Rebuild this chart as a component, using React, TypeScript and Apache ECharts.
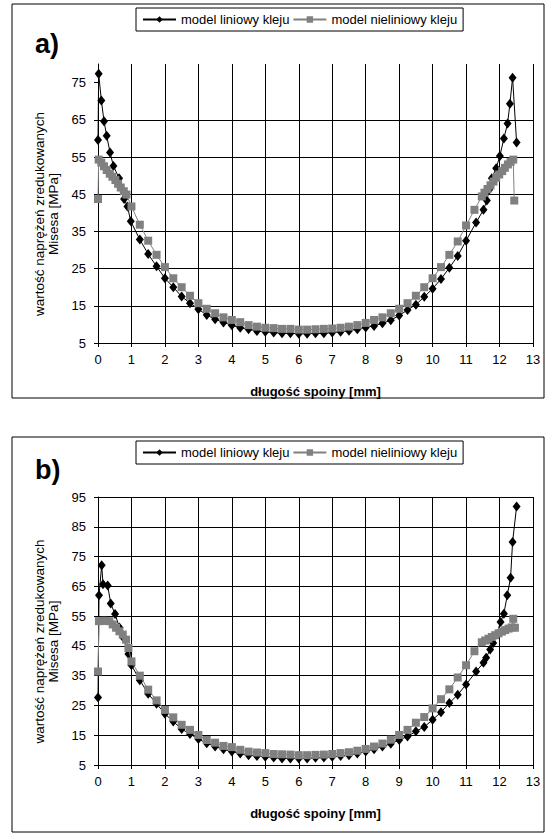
import React, { useEffect, useRef } from "react";
import * as echarts from "echarts";

const FONT = "'Liberation Sans', Arial, sans-serif";
const NAME_LIN = "model liniowy kleju";
const NAME_NON = "model nieliniowy kleju";

const xTicks = [0, 1, 2, 3, 4, 5, 6, 7, 8, 9, 10, 11, 12, 13];
const aYTicks = [5, 15, 25, 35, 45, 55, 65, 75];
const bYTicks = [5, 15, 25, 35, 45, 55, 65, 75, 85, 95];
const yTitleText = "wartość naprężeń zredukowanych\nMisesa [MPa]";
const xTitleText = "długość spoiny [mm]";

// ---- panel a) ----
const aLinX = [0, 0.02, 0.1, 0.18, 0.26, 0.36, 0.46, 0.63, 0.78, 0.88, 0.98,
  1.25, 1.5, 1.75, 2, 2.25, 2.5, 2.75, 3, 3.25, 3.5,
  3.75, 4, 4.25, 4.5, 4.75, 5, 5.25, 5.5, 5.75, 6,
  6.25, 6.5, 6.75, 7, 7.25, 7.5, 7.75, 8, 8.25, 8.5,
  8.75, 9, 9.25, 9.5, 9.75, 10, 10.25, 10.5, 10.75, 11,
  11.3, 11.52, 11.62, 11.69, 11.77, 11.9, 12.01, 12.13, 12.24, 12.31, 12.39, 12.51];
const aLinY = [59.6, 77.4, 70.2, 64.6, 60.7, 56.2, 52.6, 49.3, 43.7, 41.7, 37.7,
  32.8, 28.9, 25.6, 22.4, 20.0, 17.5, 15.7, 14.1, 12.5, 11.4,
  10.5, 9.8, 9.1, 8.7, 8.2, 8.0, 7.8, 7.6, 7.6, 7.5,
  7.5, 7.6, 7.6, 7.8, 8.0, 8.3, 8.7, 9.2, 9.6, 10.3,
  11.1, 12.4, 13.9, 15.3, 17.4, 19.6, 22.2, 25.2, 28.4, 32.5,
  37.4, 40.8, 43.3, 46.2, 49.3, 52.0, 55.3, 60.0, 64.0, 69.3, 76.3, 58.9];

const aNonX = [0, 0.02, 0.1, 0.18, 0.26, 0.35, 0.43, 0.52, 0.6, 0.68, 0.77, 0.85,
  1, 1.25, 1.5, 1.75, 2, 2.25, 2.5, 2.75, 3, 3.25, 3.5,
  3.75, 4, 4.25, 4.5, 4.75, 5, 5.25, 5.5, 5.75, 6,
  6.25, 6.5, 6.75, 7, 7.25, 7.5, 7.75, 8, 8.25, 8.5,
  8.75, 9, 9.25, 9.5, 9.75, 10, 10.25, 10.5, 10.75, 11, 11.25,
  11.47, 11.55, 11.64, 11.73, 11.82, 11.9, 11.99, 12.08, 12.16, 12.25, 12.33, 12.41, 12.44];
const aNonY = [43.7, 54.3, 53.5, 52.5, 51.5, 50.5, 49.7, 48.8, 47.8, 46.8, 45.8, 44.9,
  41.7, 36.8, 32.5, 28.7, 25.4, 22.4, 20.0, 17.7, 15.7, 14.2, 13.0,
  11.9, 11.2, 10.6, 9.8, 9.4, 9.1, 9.0, 8.8, 8.8, 8.6,
  8.6, 8.7, 8.8, 8.9, 9.1, 9.4, 9.8, 10.4, 11.2, 11.9,
  13.0, 14.2, 15.7, 17.7, 20.0, 22.4, 25.4, 28.7, 32.3, 36.6, 40.8,
  44.4, 45.4, 46.4, 47.4, 48.4, 49.4, 50.3, 51.2, 52.1, 53.0, 53.7, 54.3, 43.3];

// ---- panel b) ----
const bLinX = [0, 0.03, 0.11, 0.15, 0.29, 0.38, 0.51, 0.64, 0.76, 0.91, 1,
  1.25, 1.5, 1.75, 2, 2.25, 2.5, 2.75, 3, 3.25, 3.5,
  3.75, 4, 4.25, 4.5, 4.75, 5, 5.25, 5.5, 5.75, 6,
  6.25, 6.5, 6.75, 7, 7.25, 7.5, 7.75, 8, 8.25, 8.5,
  8.75, 9, 9.25, 9.5, 9.75, 10, 10.25, 10.5, 10.75, 11,
  11.3, 11.52, 11.6, 11.72, 11.81, 11.91, 12.03, 12.13, 12.23, 12.33, 12.39, 12.51];
const bLinY = [27.7, 62.0, 72.1, 65.7, 65.3, 59.2, 55.7, 51.2, 47.7, 42.3, 38.5,
  33.5, 28.9, 25.6, 22.2, 19.6, 17.1, 15.4, 13.7, 12.3, 11.2,
  10.3, 9.5, 8.9, 8.3, 8.0, 7.8, 7.5, 7.2, 7.2, 7.2,
  7.2, 7.4, 7.5, 7.8, 8.0, 8.3, 8.9, 9.5, 10.3, 11.2,
  12.1, 13.4, 14.6, 16.3, 17.8, 20.2, 22.7, 25.8, 28.6, 32.0,
  36.4, 39.3, 41.0, 43.8, 46.0, 48.8, 53.0, 55.8, 62.0, 67.9, 79.9, 91.8];

const bNonX = [0, 0.03, 0.13, 0.23, 0.34, 0.44, 0.54, 0.64, 0.74, 0.84, 0.91,
  1, 1.25, 1.5, 1.75, 2, 2.25, 2.5, 2.75, 3, 3.25, 3.5,
  3.75, 4, 4.25, 4.5, 4.75, 5, 5.25, 5.5, 5.75, 6,
  6.25, 6.5, 6.75, 7, 7.25, 7.5, 7.75, 8, 8.25, 8.5,
  8.75, 9, 9.25, 9.5, 9.75, 10, 10.25, 10.5, 10.75, 11, 11.25,
  11.47, 11.57, 11.67, 11.77, 11.87, 11.97, 12.07, 12.17, 12.27, 12.36, 12.41, 12.46];
const bNonY = [36.4, 53.3, 53.4, 53.4, 53.3, 52.2, 51.1, 49.9, 48.8, 47.1, 44.3,
  39.8, 35.0, 30.3, 26.7, 23.5, 21.0, 18.5, 16.8, 15.1, 13.4, 12.5,
  11.4, 11.0, 10.1, 9.5, 9.2, 9.0, 8.7, 8.6, 8.5, 8.3,
  8.3, 8.4, 8.5, 8.7, 9.0, 9.3, 9.8, 10.4, 11.2, 12.2,
  13.5, 15.1, 16.8, 19.2, 21.1, 24.0, 27.1, 30.4, 34.4, 38.5, 43.2,
  46.2, 46.8, 47.4, 48.0, 48.6, 49.2, 49.8, 50.3, 50.8, 51.2, 54.1, 51.1];

const pairs = (xs: number[], ys: number[]) => xs.map((x, i) => [x, ys[i]]);

function xAxisFor(gridIndex: number) {
  return {
    gridIndex,
    type: "value",
    min: 0,
    max: 13,
    interval: 1,
    name: xTitleText,
    nameLocation: "middle",
    nameGap: 42,
    nameTextStyle: { fontFamily: FONT, fontWeight: "bold", fontSize: 13, color: "#000" },
    axisLine: { show: true, onZero: false, lineStyle: { color: "#000", width: 1 } },
    axisTick: { show: true, length: 4, lineStyle: { color: "#000" }, customValues: xTicks },
    axisLabel: { margin: 10, color: "#000", fontSize: 13, fontFamily: FONT, customValues: xTicks },
    splitLine: { show: true, showMinLine: false, lineStyle: { color: "#000", width: 1 } },
  };
}

function yAxisFor(gridIndex: number, max: number, ticks: number[]) {
  return {
    gridIndex,
    type: "value",
    min: 5,
    max,
    interval: 10,
    name: yTitleText,
    nameLocation: "middle",
    nameRotate: 90,
    nameGap: 34,
    nameTextStyle: {
      fontFamily: FONT,
      fontSize: 13.5,
      color: "#000",
      lineHeight: 14,
      align: "center",
      padding: [0, 21, 0, 0],
    },
    axisLine: { show: true, onZero: false, lineStyle: { color: "#000", width: 1 } },
    axisTick: { show: true, length: 4, lineStyle: { color: "#000" }, customValues: ticks },
    axisLabel: { margin: 12, color: "#000", fontSize: 13, fontFamily: FONT, customValues: ticks },
    splitLine: {
      show: true,
      showMinLine: false,
      showMaxLine: max === 95,
      lineStyle: { color: "#000", width: 1 },
    },
  };
}

function linSeries(name: string, xi: number, data: number[][]) {
  return {
    type: "line",
    name,
    xAxisIndex: xi,
    yAxisIndex: xi,
    data,
    symbol: "diamond",
    symbolSize: [8, 10],
    itemStyle: { color: "#000" },
    lineStyle: { color: "#000", width: 1 },
    z: 3,
  };
}
function nonSeries(name: string, xi: number, data: number[][]) {
  return {
    type: "line",
    name,
    xAxisIndex: xi,
    yAxisIndex: xi,
    data,
    symbol: "rect",
    symbolSize: 8,
    itemStyle: { color: "#808080" },
    lineStyle: { color: "#808080", width: 1 },
    z: 4,
  };
}

function legendAt(top: number) {
  return {
    top,
    left: 136,
    orient: "horizontal",
    data: [NAME_LIN, NAME_NON],
    borderColor: "#000",
    borderWidth: 1,
    padding: [5, 6, 5, 6],
    itemGap: 3,
    itemWidth: 33,
    itemHeight: 8,
    selectedMode: false,
    textStyle: { fontFamily: FONT, fontSize: 13, color: "#000" },
  };
}

export default function App() {
  const ref = useRef<HTMLDivElement>(null);
  useEffect(() => {
    if (!ref.current) return;
    const chart = echarts.init(ref.current, undefined, { renderer: "svg" });
    chart.setOption({
      animation: false,
      backgroundColor: "#fff",
      textStyle: { fontFamily: FONT },
      grid: [
        { left: 98, right: 17, top: 64, height: 279, outerBoundsMode: "none", containLabel: false },
        { left: 98, right: 17, top: 497, height: 268, outerBoundsMode: "none", containLabel: false },
      ],
      legend: [legendAt(8), legendAt(441)],
      xAxis: [xAxisFor(0), xAxisFor(1)],
      yAxis: [yAxisFor(0, 80, aYTicks), yAxisFor(1, 95, bYTicks)],
      series: [
        linSeries(NAME_LIN, 0, pairs(aLinX, aLinY)),
        nonSeries(NAME_NON, 0, pairs(aNonX, aNonY)),
        linSeries(NAME_LIN, 1, pairs(bLinX, bLinY)),
        nonSeries(NAME_NON, 1, pairs(bNonX, bNonY)),
      ],
      graphic: [
        { type: "rect", shape: { x: 12, y: 4, width: 532, height: 394 }, style: { fill: "none", stroke: "#000", lineWidth: 1 }, silent: true },
        { type: "rect", shape: { x: 12, y: 437, width: 532, height: 395 }, style: { fill: "none", stroke: "#000", lineWidth: 1 }, silent: true },
        { type: "text", x: 35, y: 30, style: { text: "a)", font: `bold 27px ${FONT}`, fill: "#000" } },
        { type: "text", x: 35, y: 456, style: { text: "b)", font: `bold 27px ${FONT}`, fill: "#000" } },
      ],
    });
    return () => chart.dispose();
  }, []);
  return (
    <div
      ref={ref}
      style={{ position: "fixed", left: 0, top: 0, width: 550, height: 836, background: "#fff" }}
    />
  );
}
